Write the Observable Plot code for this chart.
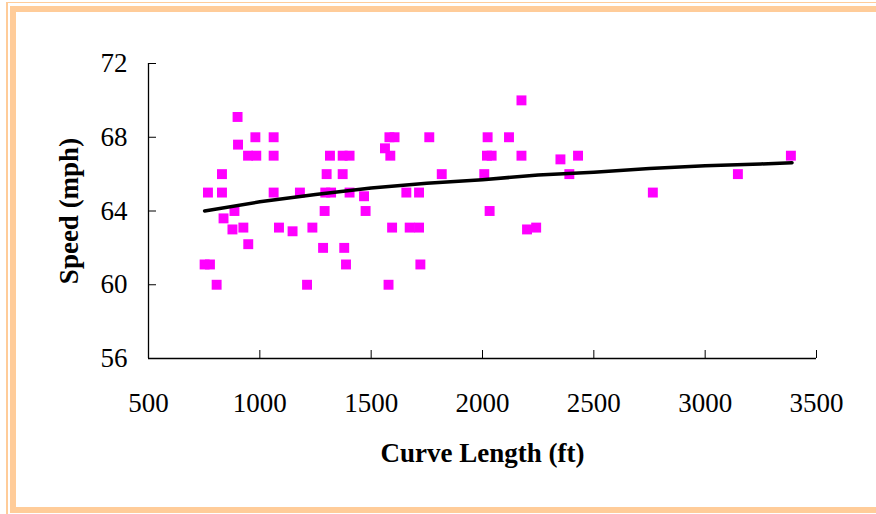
<!DOCTYPE html>
<html>
<head>
<meta charset="utf-8">
<script src="https://cdn.jsdelivr.net/npm/d3@7"></script>
<script src="https://cdn.jsdelivr.net/npm/@observablehq/plot@0.6"></script>
<style>
  html, body { margin: 0; padding: 0; background: #fff; }
  #wrap { position: relative; width: 876px; height: 514px; overflow: hidden; background: #fff; }
  #wrap .b { position: absolute; background: #FFCC99; }
  #chart { position: absolute; left: 0; top: 0; }
  #chart text { font-family: 'Liberation Serif', 'Times New Roman', serif; }
</style>
</head>
<body>
<div id="wrap">
  <div class="b" style="left:6px;top:2px;width:870px;height:1px;"></div>
  <div class="b" style="left:6px;top:2px;width:2px;height:512px;"></div>
  <div class="b" style="left:10px;top:6px;width:866px;height:6px;"></div>
  <div class="b" style="left:10px;top:6px;width:6px;height:501px;"></div>
  <div class="b" style="left:10px;top:507px;width:866px;height:6px;"></div>
  <div id="chart"></div>
</div>
<script>
// Observed data: curve length (ft) and speed (mph)
const curveLength = [
  900, 980, 1062, 902, 947, 984, 1062, 1315, 1372, 1403,
  830, 1300, 1372, 767, 830, 1062, 1180, 1294, 1320, 1403,
  1468, 886, 1291, 1475, 837, 877, 926, 1086, 1147, 1236,
  948, 1284, 1379, 752, 776, 1387, 806, 1212,
  2175, 1582, 1605, 1761, 2023, 2119, 1562, 1586, 2020, 2041,
  2175, 2350, 2429, 1817, 2008, 2390, 1658, 1715, 2032, 1594,
  1673, 1715, 2200, 2241, 1721, 1578,
  2765, 3147, 3385
];
const speed = [
  69.1, 68, 68, 67.6, 67, 67, 67, 67, 67, 67,
  66, 66, 66, 65, 65, 65, 65, 65, 65, 65,
  64.8, 64, 64, 64, 63.6, 63, 63.1, 63.1, 62.9, 63.1,
  62.2, 62, 62, 61.1, 61.1, 61.1, 60, 60,
  70, 68, 68, 68, 68, 68, 67.4, 67, 67, 67,
  67, 66.8, 67, 66, 66, 66, 65, 65, 64, 63.1,
  63.1, 63.1, 63, 63.1, 61.1, 60,
  65, 66, 67
];
// Trend line
const trendX = [752, 1000, 1250, 1500, 1750, 2000, 2250, 2500, 2750, 3000, 3250, 3390];
const trendY = [64.0, 64.5, 64.9, 65.25, 65.5, 65.7, 65.95, 66.1, 66.3, 66.45, 66.55, 66.62];
// Axis ticks and titles
const xTicks = [500, 1000, 1500, 2000, 2500, 3000, 3500];
const yTicks = [56, 60, 64, 68, 72];
const xTitle = "Curve Length (ft)";
const yTitle = "Speed (mph)";

const points = curveLength.map((x, i) => ({x, y: speed[i]}));
const trend = trendX.map((x, i) => ({x, y: trendY[i]}));

const font = "'Liberation Serif', 'Times New Roman', serif";

const chart = Plot.plot({
  width: 876,
  height: 514,
  marginLeft: 148,
  marginRight: 60,
  marginTop: 63,
  marginBottom: 156,
  style: {fontFamily: font, background: "transparent", color: "#000"},
  x: {domain: [500, 3500]},
  y: {domain: [56, 72]},
  marks: [
    Plot.ruleX([500], {stroke: "#000", strokeWidth: 1.3}),
    Plot.ruleY([56], {stroke: "#000", strokeWidth: 1.3}),
    Plot.axisX({ticks: xTicks, tickSize: -8, tickPadding: 42, fontSize: 27, fontFamily: font, tickFormat: d3.format("d"), label: null, stroke: "#000"}),
    Plot.axisY({ticks: yTicks, tickSize: -8, tickPadding: 29, fontSize: 27, fontFamily: font, tickFormat: d3.format("d"), label: null, stroke: "#000"}),
    Plot.dot(points, {x: "x", y: "y", symbol: "square", r: 5.6, fill: "#FF00FF", stroke: "none"}),
    Plot.line(trend, {x: "x", y: "y", stroke: "#000", strokeWidth: 3.5}),
    Plot.text([xTitle], {frameAnchor: "bottom", textAnchor: "middle", dy: 103, fontSize: 27, fontFamily: font, fontWeight: "bold"}),
    Plot.text([yTitle], {frameAnchor: "left", textAnchor: "middle", rotate: -90, dx: -79, fontSize: 27, fontFamily: font, fontWeight: "bold"})
  ]
});
document.getElementById("chart").appendChild(chart);
</script>
</body>
</html>
